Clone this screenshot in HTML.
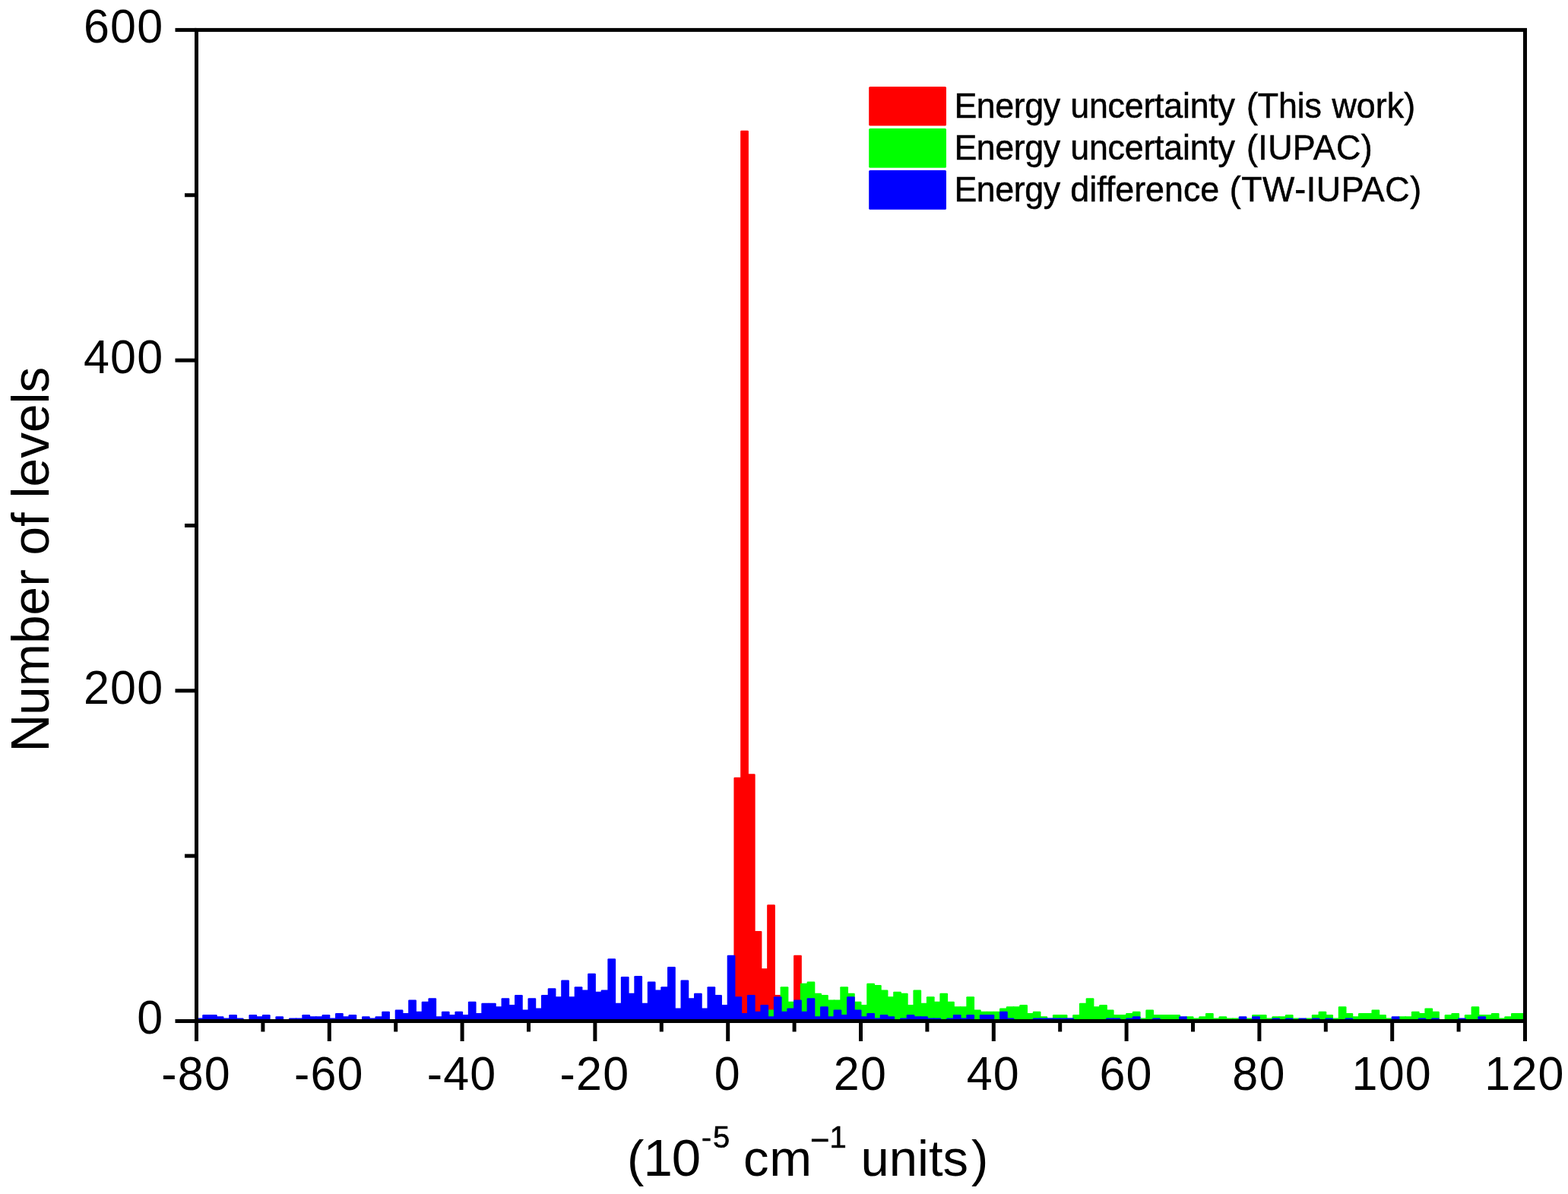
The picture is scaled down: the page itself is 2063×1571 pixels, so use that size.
<!DOCTYPE html>
<html lang="en">
<head>
<meta charset="utf-8">
<title>Histogram of energy uncertainties and differences</title>
<style>
html, body { margin: 0; padding: 0; background: #fff; }
body { width: 2063px; height: 1571px; overflow: hidden; }
svg { display: block; }
text { font-family: "Liberation Sans", Arial, Helvetica, sans-serif; fill: #000; }
.tk { font-size: 61px; letter-spacing: 1.2px; }
.ttl { font-size: 67px; }
.sup { font-size: 40px; stroke: #000; stroke-width: 0.6px; }
.sm { font-size: 39px; stroke: #000; stroke-width: 0.6px; }
.mn { font-size: 44px; stroke: #000; stroke-width: 0.4px; }
.dg { font-size: 69px; letter-spacing: -1.1px; }
.wd { letter-spacing: 0.8px; }
.cap { font-size: 69.6px; letter-spacing: -1.4px; }
.lg { font-size: 44.8px; stroke: #000; stroke-width: 0.5px; }
</style>
</head>
<body>
<svg width="2063" height="1571" viewBox="0 0 2063 1571"><rect width="2063" height="1571" fill="#fff"/><g fill="#ff0000"><rect x="965.44" y="1022.75" width="10.74" height="320.75" rx="1.2"/><rect x="974.18" y="171.82" width="10.74" height="1171.68" rx="1.2"/><rect x="982.92" y="1018.18" width="10.74" height="325.32" rx="1.2"/><rect x="991.66" y="1224.88" width="10.74" height="118.62" rx="1.2"/><rect x="1000.40" y="1274.22" width="10.74" height="69.28" rx="1.2"/><rect x="1009.14" y="1190.32" width="10.74" height="153.18" rx="1.2"/><rect x="1017.88" y="1309.00" width="10.74" height="34.50" rx="1.2"/><rect x="1044.10" y="1256.83" width="10.74" height="86.67" rx="1.2"/></g><g fill="#00ff00"><rect x="1009.14" y="1328.56" width="10.74" height="14.94" rx="1.2"/><rect x="1026.62" y="1298.13" width="10.74" height="45.37" rx="1.2"/><rect x="1035.36" y="1317.69" width="10.74" height="25.81" rx="1.2"/><rect x="1052.84" y="1293.78" width="10.74" height="49.72" rx="1.2"/><rect x="1061.58" y="1291.61" width="10.74" height="51.89" rx="1.2"/><rect x="1070.32" y="1306.82" width="10.74" height="36.68" rx="1.2"/><rect x="1079.06" y="1309.00" width="10.74" height="34.50" rx="1.2"/><rect x="1087.80" y="1315.52" width="10.74" height="27.98" rx="1.2"/><rect x="1096.54" y="1315.52" width="10.74" height="27.98" rx="1.2"/><rect x="1105.28" y="1298.13" width="10.74" height="45.37" rx="1.2"/><rect x="1114.02" y="1306.82" width="10.74" height="36.68" rx="1.2"/><rect x="1122.76" y="1317.69" width="10.74" height="25.81" rx="1.2"/><rect x="1131.50" y="1322.04" width="10.74" height="21.46" rx="1.2"/><rect x="1140.24" y="1293.78" width="10.74" height="49.72" rx="1.2"/><rect x="1148.98" y="1295.96" width="10.74" height="47.54" rx="1.2"/><rect x="1157.72" y="1302.48" width="10.74" height="41.02" rx="1.2"/><rect x="1166.46" y="1311.17" width="10.74" height="32.33" rx="1.2"/><rect x="1175.20" y="1304.65" width="10.74" height="38.85" rx="1.2"/><rect x="1183.94" y="1306.82" width="10.74" height="36.68" rx="1.2"/><rect x="1192.68" y="1322.04" width="10.74" height="21.46" rx="1.2"/><rect x="1201.42" y="1302.48" width="10.74" height="41.02" rx="1.2"/><rect x="1210.16" y="1319.87" width="10.74" height="23.63" rx="1.2"/><rect x="1218.90" y="1311.17" width="10.74" height="32.33" rx="1.2"/><rect x="1227.64" y="1317.69" width="10.74" height="25.81" rx="1.2"/><rect x="1236.38" y="1306.82" width="10.74" height="36.68" rx="1.2"/><rect x="1245.12" y="1317.69" width="10.74" height="25.81" rx="1.2"/><rect x="1253.86" y="1324.21" width="10.74" height="19.29" rx="1.2"/><rect x="1262.60" y="1324.21" width="10.74" height="19.29" rx="1.2"/><rect x="1271.34" y="1311.17" width="10.74" height="32.33" rx="1.2"/><rect x="1280.08" y="1328.56" width="10.74" height="14.94" rx="1.2"/><rect x="1288.82" y="1330.73" width="10.74" height="12.77" rx="1.2"/><rect x="1297.56" y="1330.73" width="10.74" height="12.77" rx="1.2"/><rect x="1306.30" y="1330.73" width="10.74" height="12.77" rx="1.2"/><rect x="1315.04" y="1326.39" width="10.74" height="17.11" rx="1.2"/><rect x="1323.78" y="1324.21" width="10.74" height="19.29" rx="1.2"/><rect x="1332.52" y="1324.21" width="10.74" height="19.29" rx="1.2"/><rect x="1341.26" y="1322.04" width="10.74" height="21.46" rx="1.2"/><rect x="1350.00" y="1332.91" width="10.74" height="10.59" rx="1.2"/><rect x="1358.74" y="1330.73" width="10.74" height="12.77" rx="1.2"/><rect x="1367.48" y="1337.25" width="10.74" height="6.25" rx="1.2"/><rect x="1376.22" y="1339.43" width="10.74" height="4.07" rx="1.2"/><rect x="1384.96" y="1335.08" width="10.74" height="8.42" rx="1.2"/><rect x="1393.70" y="1335.08" width="10.74" height="8.42" rx="1.2"/><rect x="1402.44" y="1339.43" width="10.74" height="4.07" rx="1.2"/><rect x="1411.18" y="1335.08" width="10.74" height="8.42" rx="1.2"/><rect x="1419.92" y="1319.87" width="10.74" height="23.63" rx="1.2"/><rect x="1428.66" y="1313.34" width="10.74" height="30.16" rx="1.2"/><rect x="1437.40" y="1324.21" width="10.74" height="19.29" rx="1.2"/><rect x="1446.14" y="1322.04" width="10.74" height="21.46" rx="1.2"/><rect x="1454.88" y="1328.56" width="10.74" height="14.94" rx="1.2"/><rect x="1463.62" y="1335.08" width="10.74" height="8.42" rx="1.2"/><rect x="1472.36" y="1335.08" width="10.74" height="8.42" rx="1.2"/><rect x="1481.10" y="1332.91" width="10.74" height="10.59" rx="1.2"/><rect x="1489.84" y="1330.73" width="10.74" height="12.77" rx="1.2"/><rect x="1498.58" y="1339.43" width="10.74" height="4.07" rx="1.2"/><rect x="1507.32" y="1328.56" width="10.74" height="14.94" rx="1.2"/><rect x="1516.06" y="1335.08" width="10.74" height="8.42" rx="1.2"/><rect x="1524.80" y="1335.08" width="10.74" height="8.42" rx="1.2"/><rect x="1533.54" y="1335.08" width="10.74" height="8.42" rx="1.2"/><rect x="1542.28" y="1335.08" width="10.74" height="8.42" rx="1.2"/><rect x="1559.76" y="1337.25" width="10.74" height="6.25" rx="1.2"/><rect x="1568.50" y="1339.43" width="10.74" height="4.07" rx="1.2"/><rect x="1577.24" y="1337.25" width="10.74" height="6.25" rx="1.2"/><rect x="1585.98" y="1332.91" width="10.74" height="10.59" rx="1.2"/><rect x="1594.72" y="1339.43" width="10.74" height="4.07" rx="1.2"/><rect x="1603.46" y="1337.25" width="10.74" height="6.25" rx="1.2"/><rect x="1612.20" y="1339.43" width="10.74" height="4.07" rx="1.2"/><rect x="1620.94" y="1339.43" width="10.74" height="4.07" rx="1.2"/><rect x="1638.42" y="1339.43" width="10.74" height="4.07" rx="1.2"/><rect x="1647.16" y="1335.08" width="10.74" height="8.42" rx="1.2"/><rect x="1655.90" y="1335.08" width="10.74" height="8.42" rx="1.2"/><rect x="1664.64" y="1339.43" width="10.74" height="4.07" rx="1.2"/><rect x="1673.38" y="1337.25" width="10.74" height="6.25" rx="1.2"/><rect x="1682.12" y="1337.25" width="10.74" height="6.25" rx="1.2"/><rect x="1690.86" y="1335.08" width="10.74" height="8.42" rx="1.2"/><rect x="1699.60" y="1339.43" width="10.74" height="4.07" rx="1.2"/><rect x="1717.08" y="1339.43" width="10.74" height="4.07" rx="1.2"/><rect x="1725.82" y="1335.08" width="10.74" height="8.42" rx="1.2"/><rect x="1734.56" y="1330.73" width="10.74" height="12.77" rx="1.2"/><rect x="1743.30" y="1335.08" width="10.74" height="8.42" rx="1.2"/><rect x="1752.04" y="1339.43" width="10.74" height="4.07" rx="1.2"/><rect x="1760.78" y="1324.21" width="10.74" height="19.29" rx="1.2"/><rect x="1769.52" y="1332.91" width="10.74" height="10.59" rx="1.2"/><rect x="1778.26" y="1337.25" width="10.74" height="6.25" rx="1.2"/><rect x="1787.00" y="1332.91" width="10.74" height="10.59" rx="1.2"/><rect x="1795.74" y="1332.91" width="10.74" height="10.59" rx="1.2"/><rect x="1804.48" y="1328.56" width="10.74" height="14.94" rx="1.2"/><rect x="1813.22" y="1335.08" width="10.74" height="8.42" rx="1.2"/><rect x="1821.96" y="1339.43" width="10.74" height="4.07" rx="1.2"/><rect x="1839.44" y="1337.25" width="10.74" height="6.25" rx="1.2"/><rect x="1848.18" y="1337.25" width="10.74" height="6.25" rx="1.2"/><rect x="1856.92" y="1330.73" width="10.74" height="12.77" rx="1.2"/><rect x="1865.66" y="1332.91" width="10.74" height="10.59" rx="1.2"/><rect x="1874.40" y="1326.39" width="10.74" height="17.11" rx="1.2"/><rect x="1883.14" y="1330.73" width="10.74" height="12.77" rx="1.2"/><rect x="1900.62" y="1335.08" width="10.74" height="8.42" rx="1.2"/><rect x="1909.36" y="1332.91" width="10.74" height="10.59" rx="1.2"/><rect x="1926.84" y="1335.08" width="10.74" height="8.42" rx="1.2"/><rect x="1935.58" y="1324.21" width="10.74" height="19.29" rx="1.2"/><rect x="1944.32" y="1335.08" width="10.74" height="8.42" rx="1.2"/><rect x="1953.06" y="1335.08" width="10.74" height="8.42" rx="1.2"/><rect x="1961.80" y="1332.91" width="10.74" height="10.59" rx="1.2"/><rect x="1970.54" y="1339.43" width="10.74" height="4.07" rx="1.2"/><rect x="1979.28" y="1337.25" width="10.74" height="6.25" rx="1.2"/><rect x="1988.02" y="1332.91" width="10.74" height="10.59" rx="1.2"/><rect x="1996.76" y="1332.91" width="9.74" height="10.59" rx="1.2"/></g><g fill="#0000ff"><rect x="257.50" y="1339.43" width="10.74" height="4.07" rx="1.2"/><rect x="266.24" y="1335.08" width="10.74" height="8.42" rx="1.2"/><rect x="274.98" y="1335.08" width="10.74" height="8.42" rx="1.2"/><rect x="283.72" y="1337.25" width="10.74" height="6.25" rx="1.2"/><rect x="292.46" y="1339.43" width="10.74" height="4.07" rx="1.2"/><rect x="301.20" y="1335.08" width="10.74" height="8.42" rx="1.2"/><rect x="309.94" y="1339.43" width="10.74" height="4.07" rx="1.2"/><rect x="327.42" y="1335.08" width="10.74" height="8.42" rx="1.2"/><rect x="336.16" y="1337.25" width="10.74" height="6.25" rx="1.2"/><rect x="344.90" y="1335.08" width="10.74" height="8.42" rx="1.2"/><rect x="362.38" y="1337.25" width="10.74" height="6.25" rx="1.2"/><rect x="379.86" y="1339.43" width="10.74" height="4.07" rx="1.2"/><rect x="388.60" y="1339.43" width="10.74" height="4.07" rx="1.2"/><rect x="397.34" y="1335.08" width="10.74" height="8.42" rx="1.2"/><rect x="406.08" y="1337.25" width="10.74" height="6.25" rx="1.2"/><rect x="414.82" y="1337.25" width="10.74" height="6.25" rx="1.2"/><rect x="423.56" y="1335.08" width="10.74" height="8.42" rx="1.2"/><rect x="432.30" y="1339.43" width="10.74" height="4.07" rx="1.2"/><rect x="441.04" y="1332.91" width="10.74" height="10.59" rx="1.2"/><rect x="449.78" y="1337.25" width="10.74" height="6.25" rx="1.2"/><rect x="458.52" y="1335.08" width="10.74" height="8.42" rx="1.2"/><rect x="476.00" y="1337.25" width="10.74" height="6.25" rx="1.2"/><rect x="484.74" y="1339.43" width="10.74" height="4.07" rx="1.2"/><rect x="493.48" y="1337.25" width="10.74" height="6.25" rx="1.2"/><rect x="502.22" y="1330.73" width="10.74" height="12.77" rx="1.2"/><rect x="519.70" y="1328.56" width="10.74" height="14.94" rx="1.2"/><rect x="528.44" y="1332.91" width="10.74" height="10.59" rx="1.2"/><rect x="537.18" y="1315.52" width="10.74" height="27.98" rx="1.2"/><rect x="545.92" y="1330.73" width="10.74" height="12.77" rx="1.2"/><rect x="554.66" y="1317.69" width="10.74" height="25.81" rx="1.2"/><rect x="563.40" y="1313.34" width="10.74" height="30.16" rx="1.2"/><rect x="572.14" y="1337.25" width="10.74" height="6.25" rx="1.2"/><rect x="580.88" y="1330.73" width="10.74" height="12.77" rx="1.2"/><rect x="589.62" y="1335.08" width="10.74" height="8.42" rx="1.2"/><rect x="598.36" y="1330.73" width="10.74" height="12.77" rx="1.2"/><rect x="607.10" y="1335.08" width="10.74" height="8.42" rx="1.2"/><rect x="615.84" y="1317.69" width="10.74" height="25.81" rx="1.2"/><rect x="624.58" y="1332.91" width="10.74" height="10.59" rx="1.2"/><rect x="633.32" y="1319.87" width="10.74" height="23.63" rx="1.2"/><rect x="642.06" y="1319.87" width="10.74" height="23.63" rx="1.2"/><rect x="650.80" y="1324.21" width="10.74" height="19.29" rx="1.2"/><rect x="659.54" y="1313.34" width="10.74" height="30.16" rx="1.2"/><rect x="668.28" y="1322.04" width="10.74" height="21.46" rx="1.2"/><rect x="677.02" y="1309.00" width="10.74" height="34.50" rx="1.2"/><rect x="685.76" y="1328.56" width="10.74" height="14.94" rx="1.2"/><rect x="694.50" y="1313.34" width="10.74" height="30.16" rx="1.2"/><rect x="703.24" y="1326.39" width="10.74" height="17.11" rx="1.2"/><rect x="711.98" y="1309.00" width="10.74" height="34.50" rx="1.2"/><rect x="720.72" y="1300.30" width="10.74" height="43.20" rx="1.2"/><rect x="729.46" y="1311.17" width="10.74" height="32.33" rx="1.2"/><rect x="738.20" y="1289.44" width="10.74" height="54.06" rx="1.2"/><rect x="746.94" y="1311.17" width="10.74" height="32.33" rx="1.2"/><rect x="755.68" y="1298.13" width="10.74" height="45.37" rx="1.2"/><rect x="764.42" y="1302.48" width="10.74" height="41.02" rx="1.2"/><rect x="773.16" y="1280.74" width="10.74" height="62.76" rx="1.2"/><rect x="781.90" y="1304.65" width="10.74" height="38.85" rx="1.2"/><rect x="790.64" y="1302.48" width="10.74" height="41.02" rx="1.2"/><rect x="799.38" y="1261.18" width="10.74" height="82.32" rx="1.2"/><rect x="808.12" y="1319.87" width="10.74" height="23.63" rx="1.2"/><rect x="816.86" y="1285.09" width="10.74" height="58.41" rx="1.2"/><rect x="825.60" y="1306.82" width="10.74" height="36.68" rx="1.2"/><rect x="834.34" y="1284.00" width="10.74" height="59.50" rx="1.2"/><rect x="843.08" y="1319.87" width="10.74" height="23.63" rx="1.2"/><rect x="851.82" y="1291.61" width="10.74" height="51.89" rx="1.2"/><rect x="860.56" y="1302.48" width="10.74" height="41.02" rx="1.2"/><rect x="869.30" y="1298.13" width="10.74" height="45.37" rx="1.2"/><rect x="878.04" y="1272.05" width="10.74" height="71.45" rx="1.2"/><rect x="886.78" y="1326.39" width="10.74" height="17.11" rx="1.2"/><rect x="895.52" y="1289.44" width="10.74" height="54.06" rx="1.2"/><rect x="904.26" y="1313.34" width="10.74" height="30.16" rx="1.2"/><rect x="913.00" y="1306.82" width="10.74" height="36.68" rx="1.2"/><rect x="921.74" y="1326.39" width="10.74" height="17.11" rx="1.2"/><rect x="930.48" y="1298.13" width="10.74" height="45.37" rx="1.2"/><rect x="939.22" y="1309.00" width="10.74" height="34.50" rx="1.2"/><rect x="947.96" y="1322.04" width="10.74" height="21.46" rx="1.2"/><rect x="956.70" y="1256.83" width="10.74" height="86.67" rx="1.2"/><rect x="965.44" y="1311.17" width="10.74" height="32.33" rx="1.2"/><rect x="974.18" y="1332.91" width="10.74" height="10.59" rx="1.2"/><rect x="982.92" y="1309.00" width="10.74" height="34.50" rx="1.2"/><rect x="991.66" y="1330.73" width="10.74" height="12.77" rx="1.2"/><rect x="1000.40" y="1322.04" width="10.74" height="21.46" rx="1.2"/><rect x="1009.14" y="1337.25" width="10.74" height="6.25" rx="1.2"/><rect x="1017.88" y="1311.17" width="10.74" height="32.33" rx="1.2"/><rect x="1026.62" y="1330.73" width="10.74" height="12.77" rx="1.2"/><rect x="1035.36" y="1326.39" width="10.74" height="17.11" rx="1.2"/><rect x="1044.10" y="1315.52" width="10.74" height="27.98" rx="1.2"/><rect x="1052.84" y="1330.73" width="10.74" height="12.77" rx="1.2"/><rect x="1061.58" y="1313.34" width="10.74" height="30.16" rx="1.2"/><rect x="1070.32" y="1337.25" width="10.74" height="6.25" rx="1.2"/><rect x="1079.06" y="1324.21" width="10.74" height="19.29" rx="1.2"/><rect x="1087.80" y="1337.25" width="10.74" height="6.25" rx="1.2"/><rect x="1096.54" y="1328.56" width="10.74" height="14.94" rx="1.2"/><rect x="1105.28" y="1335.08" width="10.74" height="8.42" rx="1.2"/><rect x="1114.02" y="1311.17" width="10.74" height="32.33" rx="1.2"/><rect x="1122.76" y="1328.56" width="10.74" height="14.94" rx="1.2"/><rect x="1131.50" y="1337.25" width="10.74" height="6.25" rx="1.2"/><rect x="1140.24" y="1332.91" width="10.74" height="10.59" rx="1.2"/><rect x="1148.98" y="1339.43" width="10.74" height="4.07" rx="1.2"/><rect x="1157.72" y="1335.08" width="10.74" height="8.42" rx="1.2"/><rect x="1166.46" y="1337.25" width="10.74" height="6.25" rx="1.2"/><rect x="1183.94" y="1339.43" width="10.74" height="4.07" rx="1.2"/><rect x="1192.68" y="1335.08" width="10.74" height="8.42" rx="1.2"/><rect x="1201.42" y="1337.25" width="10.74" height="6.25" rx="1.2"/><rect x="1210.16" y="1337.25" width="10.74" height="6.25" rx="1.2"/><rect x="1218.90" y="1339.43" width="10.74" height="4.07" rx="1.2"/><rect x="1227.64" y="1339.43" width="10.74" height="4.07" rx="1.2"/><rect x="1245.12" y="1339.43" width="10.74" height="4.07" rx="1.2"/><rect x="1253.86" y="1335.08" width="10.74" height="8.42" rx="1.2"/><rect x="1262.60" y="1339.43" width="10.74" height="4.07" rx="1.2"/><rect x="1271.34" y="1335.08" width="10.74" height="8.42" rx="1.2"/><rect x="1288.82" y="1335.08" width="10.74" height="8.42" rx="1.2"/><rect x="1297.56" y="1335.08" width="10.74" height="8.42" rx="1.2"/><rect x="1315.04" y="1330.73" width="10.74" height="12.77" rx="1.2"/><rect x="1323.78" y="1339.43" width="10.74" height="4.07" rx="1.2"/><rect x="1358.74" y="1339.43" width="10.74" height="4.07" rx="1.2"/><rect x="1367.48" y="1339.43" width="10.74" height="4.07" rx="1.2"/><rect x="1376.22" y="1339.43" width="10.74" height="4.07" rx="1.2"/><rect x="1384.96" y="1339.43" width="10.74" height="4.07" rx="1.2"/><rect x="1393.70" y="1339.43" width="10.74" height="4.07" rx="1.2"/><rect x="1402.44" y="1339.43" width="10.74" height="4.07" rx="1.2"/><rect x="1454.88" y="1339.43" width="10.74" height="4.07" rx="1.2"/><rect x="1463.62" y="1339.43" width="10.74" height="4.07" rx="1.2"/><rect x="1481.10" y="1339.43" width="10.74" height="4.07" rx="1.2"/><rect x="1489.84" y="1337.25" width="10.74" height="6.25" rx="1.2"/><rect x="1516.06" y="1339.43" width="10.74" height="4.07" rx="1.2"/><rect x="1551.02" y="1337.25" width="10.74" height="6.25" rx="1.2"/><rect x="1629.68" y="1337.25" width="10.74" height="6.25" rx="1.2"/><rect x="1647.16" y="1337.25" width="10.74" height="6.25" rx="1.2"/><rect x="1673.38" y="1339.43" width="10.74" height="4.07" rx="1.2"/><rect x="1690.86" y="1339.43" width="10.74" height="4.07" rx="1.2"/><rect x="1708.34" y="1339.43" width="10.74" height="4.07" rx="1.2"/><rect x="1725.82" y="1339.43" width="10.74" height="4.07" rx="1.2"/><rect x="1743.30" y="1339.43" width="10.74" height="4.07" rx="1.2"/><rect x="1769.52" y="1339.43" width="10.74" height="4.07" rx="1.2"/><rect x="1830.70" y="1337.25" width="10.74" height="6.25" rx="1.2"/><rect x="1865.66" y="1339.43" width="10.74" height="4.07" rx="1.2"/><rect x="1883.14" y="1339.43" width="10.74" height="4.07" rx="1.2"/><rect x="1918.10" y="1339.43" width="10.74" height="4.07" rx="1.2"/><rect x="1944.32" y="1337.25" width="10.74" height="6.25" rx="1.2"/></g><g stroke="#000" stroke-width="5.0" fill="none"><rect x="258.50" y="39.40" width="1748.00" height="1304.10" fill="none" stroke="#000" stroke-width="5.0"/><line x1="230.5" y1="1343.50" x2="258.50" y2="1343.50"/><line x1="243.0" y1="1126.15" x2="258.50" y2="1126.15"/><line x1="230.5" y1="908.80" x2="258.50" y2="908.80"/><line x1="243.0" y1="691.45" x2="258.50" y2="691.45"/><line x1="230.5" y1="474.10" x2="258.50" y2="474.10"/><line x1="243.0" y1="256.75" x2="258.50" y2="256.75"/><line x1="230.5" y1="39.40" x2="258.50" y2="39.40"/><line x1="258.50" y1="1343.50" x2="258.50" y2="1370.0"/><line x1="345.90" y1="1343.50" x2="345.90" y2="1357.5"/><line x1="433.30" y1="1343.50" x2="433.30" y2="1370.0"/><line x1="520.70" y1="1343.50" x2="520.70" y2="1357.5"/><line x1="608.10" y1="1343.50" x2="608.10" y2="1370.0"/><line x1="695.50" y1="1343.50" x2="695.50" y2="1357.5"/><line x1="782.90" y1="1343.50" x2="782.90" y2="1370.0"/><line x1="870.30" y1="1343.50" x2="870.30" y2="1357.5"/><line x1="957.70" y1="1343.50" x2="957.70" y2="1370.0"/><line x1="1045.10" y1="1343.50" x2="1045.10" y2="1357.5"/><line x1="1132.50" y1="1343.50" x2="1132.50" y2="1370.0"/><line x1="1219.90" y1="1343.50" x2="1219.90" y2="1357.5"/><line x1="1307.30" y1="1343.50" x2="1307.30" y2="1370.0"/><line x1="1394.70" y1="1343.50" x2="1394.70" y2="1357.5"/><line x1="1482.10" y1="1343.50" x2="1482.10" y2="1370.0"/><line x1="1569.50" y1="1343.50" x2="1569.50" y2="1357.5"/><line x1="1656.90" y1="1343.50" x2="1656.90" y2="1370.0"/><line x1="1744.30" y1="1343.50" x2="1744.30" y2="1357.5"/><line x1="1831.70" y1="1343.50" x2="1831.70" y2="1370.0"/><line x1="1919.10" y1="1343.50" x2="1919.10" y2="1357.5"/><line x1="2006.50" y1="1343.50" x2="2006.50" y2="1370.0"/></g><text class="tk" transform="translate(215.30 1360.30) scale(1 1.0405)" text-anchor="end">0</text><text class="tk" transform="translate(215.30 925.60) scale(1 1.0405)" text-anchor="end">200</text><text class="tk" transform="translate(215.30 490.90) scale(1 1.0405)" text-anchor="end">400</text><text class="tk" transform="translate(215.30 56.20) scale(1 1.0405)" text-anchor="end">600</text><text class="tk" transform="translate(258.00 1433.90) scale(1 1.0405)" text-anchor="middle">-80</text><text class="tk" transform="translate(432.80 1433.90) scale(1 1.0405)" text-anchor="middle">-60</text><text class="tk" transform="translate(607.60 1433.90) scale(1 1.0405)" text-anchor="middle">-40</text><text class="tk" transform="translate(782.40 1433.90) scale(1 1.0405)" text-anchor="middle">-20</text><text class="tk" transform="translate(957.20 1433.90) scale(1 1.0405)" text-anchor="middle">0</text><text class="tk" transform="translate(1132.00 1433.90) scale(1 1.0405)" text-anchor="middle">20</text><text class="tk" transform="translate(1306.80 1433.90) scale(1 1.0405)" text-anchor="middle">40</text><text class="tk" transform="translate(1481.60 1433.90) scale(1 1.0405)" text-anchor="middle">60</text><text class="tk" transform="translate(1656.40 1433.90) scale(1 1.0405)" text-anchor="middle">80</text><text class="tk" transform="translate(1831.20 1433.90) scale(1 1.0405)" text-anchor="middle">100</text><text class="tk" transform="translate(2006.00 1433.90) scale(1 1.0405)" text-anchor="middle">120</text><text id="ylab" class="ttl" transform="translate(63.50 736.20) rotate(-90) scale(1 1.0)" text-anchor="middle" style="font-size:67.6px"><tspan class="cap">N</tspan>umber of levels</text><text class="ttl" id="xlab"><tspan x="825.0" y="1547">(</tspan><tspan class="dg" x="846.4" y="1547">10</tspan><tspan class="sm" x="923.0" y="1510.2">-</tspan><tspan class="sup" x="938.0" y="1509.9">5 </tspan><tspan class="wd" x="978.0" y="1547">cm</tspan><tspan class="mn" x="1066.0" y="1514.7">−</tspan><tspan class="sup" x="1091.6" y="1509.9">1 </tspan><tspan x="1132.5" y="1547">units</tspan><tspan x="1278.0" y="1547">)</tspan></text><rect x="1143.2" y="114.00" width="101.8" height="51.6" rx="1.5" fill="#ff0000"/><text id="lg0" class="lg" transform="translate(1255.40 155.30) scale(1 1.03)" text-anchor="start"><tspan x="-0.02" style="letter-spacing:-0.448px">Energy </tspan><tspan x="152.82" style="letter-spacing:-0.240px">uncertainty </tspan><tspan x="384.70" style="letter-spacing:-0.200px">(This </tspan><tspan x="497.02" style="letter-spacing:0.080px">work)</tspan></text><rect x="1143.2" y="169.05" width="101.8" height="51.6" rx="1.5" fill="#00ff00"/><text id="lg1" class="lg" transform="translate(1255.40 210.35) scale(1 1.03)" text-anchor="start"><tspan x="-0.02" style="letter-spacing:-0.448px">Energy </tspan><tspan x="152.82" style="letter-spacing:-0.240px">uncertainty </tspan><tspan x="384.70" style="letter-spacing:0.348px">(IUPAC)</tspan></text><rect x="1143.2" y="224.10" width="101.8" height="51.6" rx="1.5" fill="#0000ff"/><text id="lg2" class="lg" transform="translate(1255.40 265.40) scale(1 1.03)" text-anchor="start"><tspan x="-0.02" style="letter-spacing:-0.448px">Energy </tspan><tspan x="152.96" style="letter-spacing:0.000px">difference </tspan><tspan x="362.24" style="letter-spacing:0.605px">(TW-IUPAC)</tspan></text></svg>
</body>
</html>
